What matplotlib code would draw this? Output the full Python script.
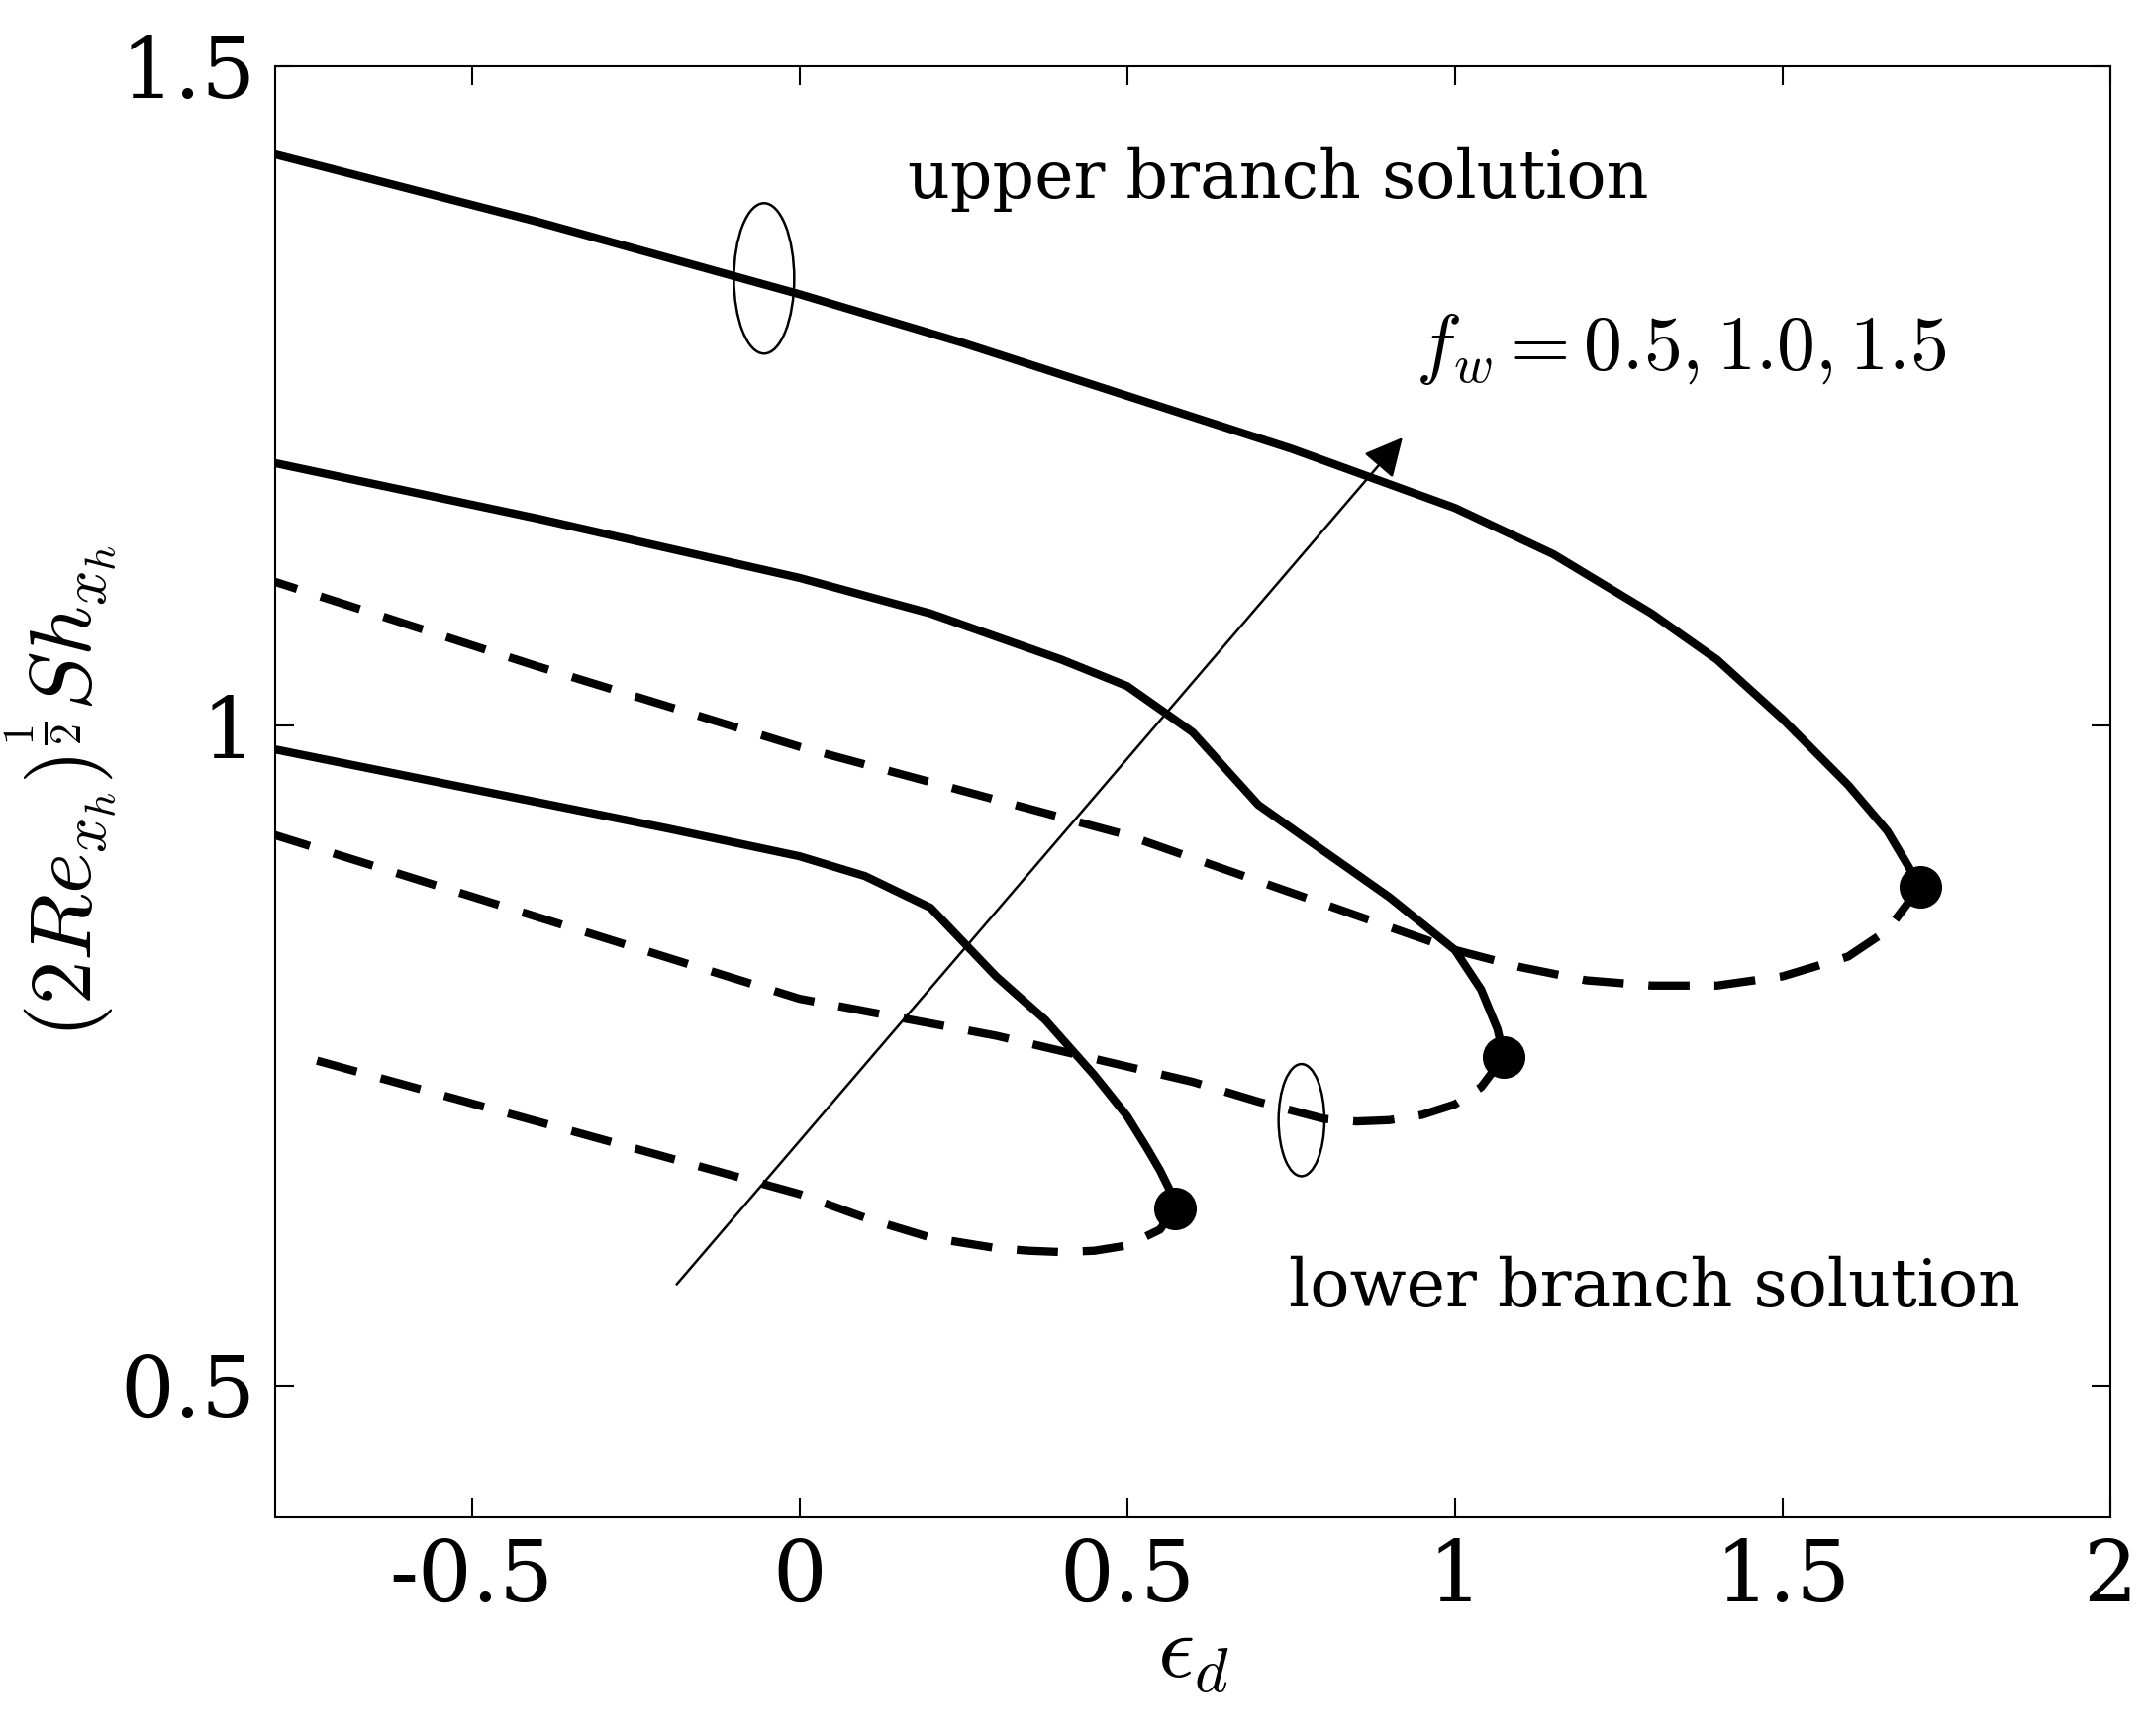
import numpy as np
import matplotlib.pyplot as plt
from matplotlib.patches import Ellipse

plt.rcParams['mathtext.fontset'] = 'cm'
plt.rcParams['font.family'] = 'serif'
plt.rcParams['font.serif'] = ['DejaVu Serif']

# upper branch (solid) for fw = 0.5, 1.0, 1.5
up05_x = [-0.8, -0.6, -0.4, -0.2, 0.0, 0.1, 0.2, 0.3, 0.375, 0.45, 0.5, 0.53, 0.55, 0.565, 0.573]
up05_y = [0.982, 0.962, 0.942, 0.922, 0.901, 0.886, 0.862, 0.81, 0.777, 0.735, 0.704, 0.68, 0.663, 0.648, 0.634]
up10_x = [-0.8, -0.4, 0.0, 0.2, 0.4, 0.5, 0.6, 0.7, 0.8, 0.9, 1.0, 1.04, 1.065, 1.075]
up10_y = [1.199, 1.157, 1.112, 1.085, 1.05, 1.03, 0.995, 0.94, 0.905, 0.87, 0.83, 0.80, 0.77, 0.749]
up15_x = [-0.8, -0.4, 0.0, 0.25, 0.5, 0.75, 1.0, 1.15, 1.3, 1.4, 1.5, 1.6, 1.66, 1.69, 1.71]
up15_y = [1.433, 1.382, 1.327, 1.29, 1.25, 1.21, 1.165, 1.13, 1.085, 1.05, 1.005, 0.955, 0.92, 0.895, 0.878]

# lower branch (dashed)
lo05_x = [0.573, 0.55, 0.5, 0.45, 0.4, 0.35, 0.3, 0.2, 0.1, 0.0, -0.4, -0.75]
lo05_y = [0.634, 0.618, 0.606, 0.602, 0.601, 0.602, 0.604, 0.612, 0.627, 0.645, 0.700, 0.748]
lo10_x = [1.075, 1.04, 1.0, 0.95, 0.9, 0.85, 0.8, 0.7, 0.6, 0.3, 0.0, -0.4, -0.8]
lo10_y = [0.749, 0.726, 0.713, 0.705, 0.701, 0.700, 0.702, 0.715, 0.730, 0.765, 0.793, 0.855, 0.917]
lo15_x = [1.71, 1.66, 1.6, 1.5, 1.4, 1.3, 1.2, 1.1, 1.0, 0.5, 0.0, -0.4, -0.8]
lo15_y = [0.878, 0.845, 0.825, 0.81, 0.803, 0.803, 0.807, 0.817, 0.83, 0.917, 0.984, 1.045, 1.109]

turn_x = [0.573, 1.075, 1.71]
turn_y = [0.634, 0.749, 0.878]

fig = plt.figure(figsize=(21.71, 17.54), dpi=100)
ax = fig.add_axes([0.128, 0.126, 0.854, 0.836])

for x, y in [(up05_x, up05_y), (up10_x, up10_y), (up15_x, up15_y)]:
    ax.plot(x, y, 'k-', lw=6, solid_joinstyle='round')
for x, y in [(lo05_x, lo05_y), (lo10_x, lo10_y), (lo15_x, lo15_y)]:
    ax.plot(x, y, 'k--', lw=6, dashes=(5, 3))
ax.plot(turn_x, turn_y, 'ko', ms=30)

ax.annotate('', xy=(0.923, 1.22), xytext=(-0.19, 0.575),
            arrowprops=dict(arrowstyle='-|>', color='k', lw=1.8, mutation_scale=60))
ax.text(0.94, 1.27, r'$f_w = 0.5, 1.0, 1.5$', fontsize=56)
ax.text(0.165, 1.40, 'upper branch solution', fontsize=48, family='DejaVu Serif')
ax.text(0.747, 0.56, 'lower branch solution', fontsize=48, family='DejaVu Serif')
ax.add_patch(Ellipse((-0.054, 1.339), 0.092, 0.114, fill=False, lw=1.8))
ax.add_patch(Ellipse((0.766, 0.701), 0.07, 0.085, fill=False, lw=1.8))

ax.set_xlim(-0.8, 2)
ax.set_ylim(0.4, 1.5)
ax.set_xticks([-0.5, 0, 0.5, 1, 1.5, 2])
ax.set_xticklabels(['-0.5', '0', '0.5', '1', '1.5', '2'])
ax.set_yticks([0.5, 1, 1.5])
ax.set_yticklabels(['0.5', '1', '1.5'])
ax.tick_params(labelsize=62, direction='in', length=14, width=1.5, top=True, right=True, pad=14)
for lab in ax.get_xticklabels() + ax.get_yticklabels():
    lab.set_fontfamily('DejaVu Serif')
for s in ax.spines.values():
    s.set_linewidth(1.5)
ax.set_xlabel(r'$\epsilon_d$', fontsize=66, labelpad=-8)
ax.set_ylabel(r'$(2Re_{x_h})^{\frac{1}{2}}Sh_{x_h}$', fontsize=64, labelpad=4)
ax.yaxis.set_label_coords(-0.085, 0.5)

fig.savefig('out.png', dpi=100)
